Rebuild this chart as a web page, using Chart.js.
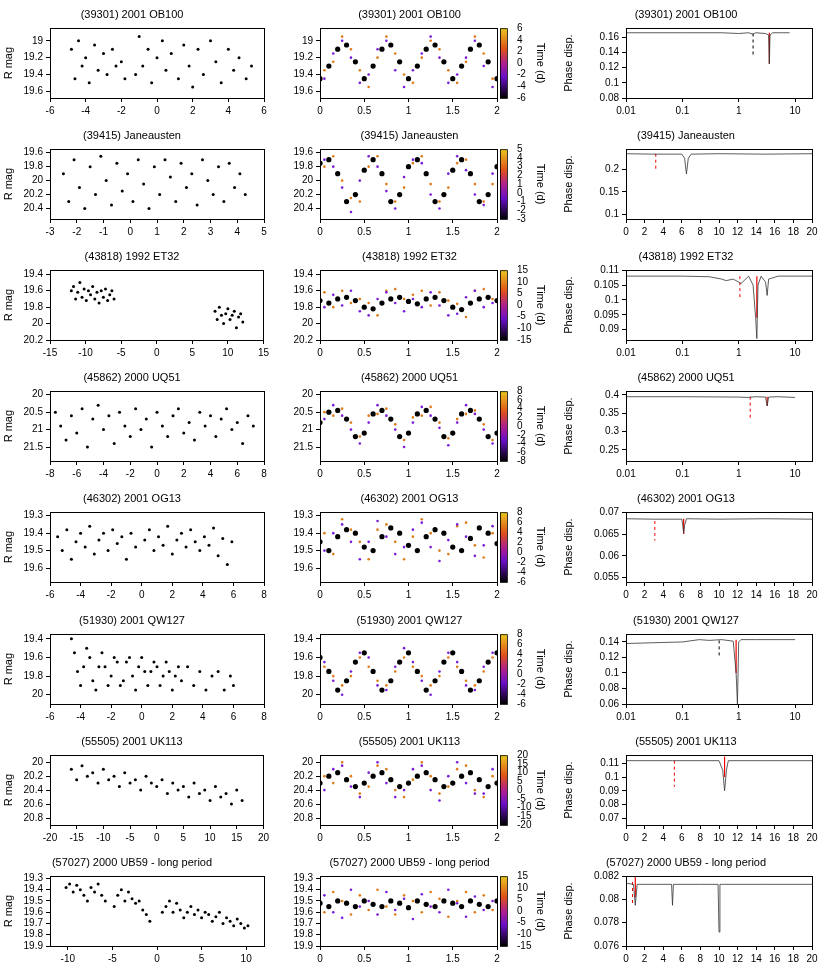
<!DOCTYPE html>
<html>
<head>
<meta charset="utf-8">
<script src="https://cdn.jsdelivr.net/npm/chart.js@4"></script>
<style>
  body { margin: 0; background: #fff; }
  .cell { position: absolute; }
</style>
</head>
<body>
<div id="wrap"></div>
<script>
// ---------- titres ----------
const TITLES = ['(39301) 2001 OB100', '(39415) Janeausten', '(43818) 1992 ET32', '(45862) 2000 UQ51',
  '(46302) 2001 OG13', '(51930) 2001 QW127', '(55505) 2001 UK113', '(57027) 2000 UB59 - long period'];

// ---------- colonne gauche : courbe de lumière brute ----------
const LEFT_X = [
  [-4.8,-4.6,-4.4,-4.2,-4,-3.8,-3.5,-3.3,-3,-2.8,-2.5,-2.3,-2,-1.8,-1.2,-1,-0.8,-0.5,-0.3,0,0.3,0.5,0.8,1.2,1.5,1.8,2,2.3,2.6,3,3.3,3.6,4,4.3,4.6,5,5.3],
  [-2.5,-2.3,-2.1,-1.9,-1.7,-1.5,-1.3,-1.1,-0.9,-0.7,-0.5,-0.3,-0.1,0.1,0.3,0.5,0.7,0.9,1.1,1.3,1.5,1.7,1.9,2.1,2.3,2.5,2.7,2.9,3.1,3.3,3.5,3.7,3.9,4.1,4.3],
  [-12,-11.7,-11.4,-11.1,-10.8,-10.5,-10.2,-9.9,-9.6,-9.3,-9,-8.7,-8.4,-8.1,-7.8,-7.5,-7.2,-6.9,-6.6,-6.3,-6,8.2,8.5,8.8,9.1,9.4,9.7,10,10.3,10.6,10.9,11.2,11.5,11.8,12.1],
  [-7.6,-7.2,-6.8,-6.4,-6,-5.6,-5.2,-4.8,-4.4,-4,-3.6,-3.2,-2.8,-2.4,-2,-1.6,-1.2,-0.8,-0.4,0,0.4,0.8,1.2,1.6,2,2.4,2.8,3.2,3.6,4,4.4,4.8,5.2,5.6,6,6.4,6.8,7.2],
  [-5.5,-5.2,-4.9,-4.6,-4.3,-4,-3.7,-3.4,-3.1,-2.8,-2.5,-2.2,-1.9,-1.6,-1.3,-1,-0.7,-0.4,0.2,0.5,0.8,1.1,1.4,1.7,2,2.3,2.6,2.9,3.2,3.5,3.8,4.1,4.4,4.7,5,5.3,5.6,5.9],
  [-4.6,-4.4,-4.2,-4,-3.8,-3.6,-3.4,-3.2,-3,-2.8,-2.6,-2.4,-2.2,-2,-1.8,-1.6,-1.4,-1.2,-1,-0.8,-0.6,-0.4,-0.2,0,0.2,0.4,0.6,0.8,1,1.2,1.4,1.6,1.8,2,2.2,2.4,2.6,3,3.4,3.8,4.2,4.6,5,5.4,5.8,6],
  [-16,-15,-14,-13,-12,-11,-10,-9,-8,-7,-6,-5,-4,-3,-2,-1,0,1,2,3,4,5,6,7,8,9,10,11,12,13,14,15,16],
  [-10.2,-9.8,-9.4,-9,-8.6,-8.2,-7.8,-7.4,-7,-6.6,-6.2,-5.8,-4.8,-4.4,-4,-3.6,-3.2,-2.8,-2.4,-2,-1.6,-1.2,-0.8,0.6,1,1.4,1.8,2.2,2.6,3,3.4,3.8,4.2,4.6,5,5.4,5.8,6.2,6.6,7,7.4,7.8,8.2,8.6,9,9.4,9.8,10.2]
];
const LEFT_Y = [
  [19.1,19.45,19.0,19.3,19.2,19.5,19.05,19.35,19.15,19.4,19.1,19.3,19.25,19.45,19.4,18.95,19.3,19.1,19.5,19.2,19.0,19.35,19.15,19.45,19.05,19.3,19.55,19.1,19.4,19.0,19.25,19.5,19.1,19.35,19.2,19.45,19.3],
  [19.9,20.3,19.7,20.1,20.4,19.8,20.2,19.65,20.0,20.35,19.75,20.15,19.9,20.3,19.7,20.05,20.4,19.8,20.2,19.7,19.95,20.3,19.75,20.1,19.9,20.35,19.7,20.0,20.2,19.8,20.3,19.75,20.1,19.9,20.2],
  [19.6,19.55,19.7,19.62,19.5,19.68,19.58,19.72,19.6,19.65,19.55,19.7,19.62,19.75,19.6,19.68,19.58,19.72,19.65,19.6,19.7,19.85,19.95,19.8,19.9,20.0,19.88,19.82,19.95,19.9,19.85,20.05,19.92,19.88,19.98],
  [20.5,20.9,21.3,20.6,21.1,20.4,21.5,20.7,20.3,21.0,20.6,21.4,20.5,20.9,21.2,20.4,21.0,20.7,21.5,20.5,20.9,21.2,20.6,20.4,21.1,20.8,21.3,20.5,20.9,20.6,21.2,20.7,20.4,21.0,20.8,21.4,20.6,20.9],
  [19.42,19.5,19.38,19.55,19.45,19.4,19.48,19.36,19.52,19.44,19.4,19.5,19.38,19.46,19.42,19.55,19.4,19.48,19.44,19.38,19.5,19.42,19.47,19.36,19.52,19.44,19.4,19.48,19.38,19.45,19.5,19.42,19.47,19.37,19.53,19.43,19.58,19.45],
  [19.4,19.55,19.75,19.9,19.7,19.5,19.6,19.85,19.95,19.7,19.55,19.7,19.9,19.8,19.6,19.65,19.9,19.85,19.65,19.6,19.8,19.95,19.7,19.6,19.75,19.9,19.75,19.65,19.7,19.9,19.8,19.65,19.75,19.95,19.8,19.7,19.85,19.7,19.9,19.75,19.95,19.8,19.75,19.95,19.8,19.9],
  [20.1,20.25,20.05,20.2,20.15,20.3,20.1,20.25,20.2,20.35,20.15,20.3,20.25,20.4,20.2,20.3,20.35,20.25,20.45,20.3,20.4,20.35,20.5,20.3,20.45,20.4,20.55,20.35,20.5,20.45,20.6,20.4,20.55],
  [19.38,19.35,19.42,19.36,19.4,19.45,19.5,19.38,19.42,19.35,19.45,19.5,19.55,19.45,19.4,19.5,19.42,19.48,19.52,19.5,19.58,19.62,19.68,19.6,19.55,19.5,19.6,19.52,19.58,19.65,19.6,19.55,19.62,19.58,19.65,19.6,19.62,19.68,19.64,19.6,19.7,19.65,19.68,19.72,19.66,19.7,19.74,19.72]
];
const LEFT_XR = [[-6,6],[-3,5],[-15,15],[-8,8],[-6,8],[-6,8],[-20,20],[-12,12]];
const LEFT_XT = [[-6,-4,-2,0,2,4,6],[-3,-2,-1,0,1,2,3,4,5],[-15,-10,-5,0,5,10,15],[-8,-6,-4,-2,0,2,4,6,8],
  [-6,-4,-2,0,2,4,6,8],[-6,-4,-2,0,2,4,6,8],[-20,-15,-10,-5,0,5,10,15,20],[-10,-5,0,5,10]];
const MAG_R = [[18.85,19.68],[19.55,20.55],[19.35,20.2],[19.9,21.9],[19.28,19.68],[19.35,20.1],[19.9,20.9],[19.28,19.9]];
const MAG_T = [[19,19.2,19.4,19.6],[19.6,19.8,20,20.2,20.4],[19.4,19.6,19.8,20,20.2],[20,20.5,21,21.5],
  [19.3,19.4,19.5,19.6],[19.4,19.6,19.8,20],[20,20.2,20.4,20.6,20.8],[19.3,19.4,19.5,19.6,19.7,19.8,19.9]];

// ---------- colonne centrale : courbe repliée ----------
const PH = [0,0.1,0.2,0.3,0.4,0.5,0.6,0.7,0.8,0.9,1,1.1,1.2,1.3,1.4,1.5,1.6,1.7,1.8,1.9,2];
const PX = [0.05,0.15,0.25,0.35,0.45,0.55,0.65,0.75,0.85,0.95,1.05,1.15,1.25,1.35,1.45,1.55,1.65,1.75,1.85,1.95];
const MID_BIN = [
  [19.45,19.3,19.1,19.05,19.25,19.45,19.3,19.1,19.05,19.25,19.45,19.3,19.1,19.05,19.25,19.45,19.3,19.1,19.05,19.25,19.45],
  [19.75,19.7,19.9,20.3,20.2,19.85,19.7,19.9,20.3,20.2,19.8,19.7,19.9,20.3,20.2,19.85,19.7,19.9,20.3,20.2,19.8],
  [19.72,19.75,19.7,19.68,19.72,19.8,19.82,19.75,19.7,19.68,19.73,19.76,19.7,19.68,19.72,19.8,19.83,19.75,19.7,19.68,19.72],
  [20.8,20.5,20.45,20.7,21.2,21.1,20.55,20.45,20.7,21.2,21.1,20.55,20.45,20.7,21.2,21.1,20.55,20.45,20.7,21.2,21.1],
  [19.45,19.5,19.42,19.38,19.4,19.48,19.5,19.42,19.37,19.4,19.47,19.5,19.42,19.38,19.4,19.48,19.5,19.43,19.37,19.4,19.46],
  [19.6,19.75,19.95,19.85,19.65,19.55,19.75,19.95,19.85,19.65,19.55,19.75,19.95,19.85,19.65,19.55,19.75,19.95,19.85,19.65,19.55],
  [20.3,20.2,20.15,20.25,20.35,20.3,20.2,20.15,20.25,20.35,20.3,20.2,20.15,20.25,20.35,20.3,20.2,20.15,20.25,20.35,20.3],
  [19.52,19.55,19.5,19.52,19.55,19.5,19.53,19.55,19.5,19.52,19.56,19.5,19.53,19.55,19.5,19.52,19.55,19.5,19.53,19.55,19.5]
];
const MID_EARLY = [
  [19.45,19.15,19.0,19.2,19.5,19.4,19.1,19.0,19.35,19.55,19.35,19.15,18.95,19.2,19.5,19.4,19.2,19.0,19.3,19.55],
  [19.7,19.8,20.1,20.45,20.0,19.65,19.8,20.15,20.4,19.95,19.7,19.75,20.2,20.4,19.9,19.65,19.85,20.2,20.35,19.9],
  [19.8,19.65,19.78,19.6,19.85,19.9,19.7,19.62,19.75,19.85,19.7,19.8,19.62,19.78,19.9,19.88,19.68,19.6,19.8,19.75],
  [20.7,20.3,20.6,21.0,21.4,20.8,20.3,20.6,21.0,21.5,20.8,20.35,20.6,20.95,21.45,20.8,20.3,20.55,21.0,21.4],
  [19.5,19.4,19.35,19.45,19.55,19.45,19.33,19.42,19.52,19.48,19.38,19.34,19.48,19.56,19.44,19.35,19.42,19.53,19.47,19.36],
  [19.65,19.85,20.0,19.75,19.55,19.6,19.9,19.95,19.7,19.5,19.65,19.85,20.0,19.75,19.55,19.65,19.9,19.95,19.7,19.55],
  [20.4,20.1,20.05,20.35,20.5,20.15,20.0,20.3,20.5,20.4,20.1,20.05,20.4,20.55,20.2,20.0,20.3,20.45,20.45,20.1],
  [19.45,19.6,19.65,19.4,19.55,19.5,19.62,19.42,19.58,19.48,19.66,19.44,19.55,19.6,19.4,19.52,19.64,19.46,19.58,19.5]
];
const MID_LATE = [
  [19.35,19.25,18.95,19.1,19.35,19.55,19.2,18.95,19.15,19.4,19.5,19.2,19.0,19.1,19.35,19.5,19.25,18.95,19.15,19.45],
  [19.8,19.65,20.0,20.25,20.3,19.8,19.65,20.05,20.3,20.1,19.75,19.65,20.05,20.3,20.1,19.75,19.7,20.05,20.3,20.05],
  [19.62,19.8,19.6,19.75,19.7,19.75,19.9,19.6,19.58,19.7,19.65,19.6,19.78,19.62,19.72,19.76,19.92,19.6,19.58,19.7],
  [20.5,20.6,20.4,20.8,21.2,20.6,20.55,20.4,20.85,21.3,20.65,20.6,20.35,20.8,21.25,20.7,20.55,20.45,20.85,21.3],
  [19.4,19.52,19.32,19.38,19.45,19.55,19.38,19.35,19.45,19.55,19.42,19.32,19.4,19.5,19.52,19.36,19.34,19.47,19.54,19.4],
  [19.7,19.8,19.9,19.8,19.6,19.7,19.85,19.9,19.75,19.6,19.7,19.8,19.9,19.8,19.6,19.7,19.85,19.9,19.75,19.6],
  [20.2,20.3,20.0,20.2,20.45,20.35,20.05,20.1,20.4,20.5,20.25,20.0,20.2,20.45,20.35,20.1,20.05,20.4,20.5,20.2],
  [19.6,19.42,19.5,19.62,19.45,19.58,19.4,19.55,19.62,19.45,19.5,19.6,19.42,19.48,19.64,19.5,19.42,19.6,19.45,19.58]
];
const MID_XT = [0,0.5,1,1.5,2];
const CB_R = [[-6,6],[-3,5],[-15,15],[-8,8],[-6,8],[-6,8],[-20,20],[-15,15]];
const CB_T = [[-6,-4,-2,0,2,4,6],[-3,-2,-1,0,1,2,3,4,5],[-15,-10,-5,0,5,10,15],[-8,-6,-4,-2,0,2,4,6,8],
  [-6,-4,-2,0,2,4,6,8],[-6,-4,-2,0,2,4,6,8],[-20,-15,-10,-5,0,5,10,15,20],[-15,-10,-5,0,5,10,15]];

// ---------- colonne droite : dispersion de phase ----------
const PD_LOG = [true,false,true,true,false,true,false,false];
const PD_X = [
  [0.01,0.1,0.5,1,1.5,1.8,2,3,3.4,3.5,3.6,4,6,8],
  [0,3,6,6.3,6.5,6.7,7,10,15,20],
  [0.01,0.1,0.3,0.5,0.6,0.8,1,1.1,1.5,1.8,2,2.1,2.2,2.5,3,3.2,3.4,5,10,20],
  [0.01,0.1,1,1.5,2,3,3.2,3.4,5,10],
  [0,3,6,6.1,6.2,6.3,6.5,10,15,20],
  [0.01,0.1,0.2,0.3,0.5,0.8,0.9,0.95,1,1.1,2,5,10],
  [0,5,10,10.4,10.6,10.8,11,15,20],
  [0,0.8,1,1.2,3,4.9,5,5.1,8,9.9,10,10.1,15,20]
];
const PD_Y = [
  [0.166,0.166,0.166,0.165,0.166,0.164,0.166,0.165,0.163,0.125,0.163,0.166,0.166,0.166],
  [0.235,0.234,0.234,0.225,0.19,0.225,0.234,0.235,0.234,0.235],
  [0.108,0.108,0.1078,0.107,0.1065,0.107,0.106,0.1055,0.108,0.105,0.094,0.087,0.105,0.108,0.106,0.1015,0.107,0.108,0.108,0.108],
  [0.395,0.395,0.394,0.393,0.395,0.394,0.37,0.394,0.395,0.393],
  [0.0685,0.0684,0.0684,0.067,0.0652,0.067,0.0685,0.0684,0.0685,0.0684],
  [0.138,0.14,0.143,0.142,0.143,0.141,0.1,0.06,0.14,0.143,0.143,0.143,0.143],
  [0.112,0.112,0.112,0.105,0.09,0.105,0.112,0.112,0.112],
  [0.0814,0.0813,0.0795,0.0813,0.0813,0.0813,0.0795,0.0813,0.0813,0.0813,0.0772,0.0813,0.0813,0.0813]
];
// meilleure période (rouge plein) : [x, y haut, y bas]
const BEST = [[3.5,0.166,0.125],null,[2.1,0.108,0.094],[3.2,0.395,0.37],[6.2,0.0685,0.065],[0.9,0.143,0.1],[10.6,0.115,0.1],[1.0,0.0822,0.0802]];
// demi-période (tirets) : [x, y haut, y bas, couleur]
const HALF = [[1.8,0.165,0.135,'#000'],[3.2,0.235,0.2,'#e00'],[1.05,0.108,0.1,'#e00'],[1.6,0.395,0.33,'#e00'],
  [3.1,0.068,0.0635,'#e00'],[0.45,0.142,0.12,'#000'],[5.2,0.112,0.093,'#e00'],[0.7,0.0815,0.0797,'#e00']];
const PD_XT_LIN = [0,2,4,6,8,10,12,14,16,18,20];
const PD_XT_LOG = [0.01,0.1,1,10];
const PD_R = [[0.08,0.172],[0.09,0.245],[0.0865,0.11],[0.22,0.41],[0.054,0.07],[0.06,0.15],[0.065,0.116],[0.076,0.082]];
const PD_T = [[0.08,0.1,0.12,0.14,0.16],[0.1,0.15,0.2],[0.09,0.095,0.1,0.105,0.11],[0.25,0.3,0.35,0.4],
  [0.055,0.06,0.065,0.07],[0.06,0.08,0.1,0.12,0.14],[0.07,0.08,0.09,0.1,0.11],[0.076,0.078,0.08,0.082]];

// ---------- style commun ----------
Chart.defaults.font.family = '"Liberation Sans", Arial, sans-serif';
Chart.defaults.font.size = 10;
Chart.defaults.color = '#000';
Chart.defaults.animation = false;

const ROW_H = 121.1;

// cadre noir autour de la zone de tracé
const boxPlugin = {
  id: 'box',
  afterDraw(chart) {
    const a = chart.chartArea, c = chart.ctx;
    c.save();
    c.strokeStyle = '#000';
    c.lineWidth = 1;
    c.strokeRect(Math.round(a.left) + 0.5, Math.round(a.top) + 0.5, Math.round(a.right - a.left), Math.round(a.bottom - a.top));
    c.restore();
  }
};

// barre de couleur (temps)
const cbarPlugin = {
  id: 'cbar',
  afterDraw(chart, args, opts) {
    if (!opts.on) return;
    const a = chart.chartArea, c = chart.ctx;
    const x = a.right + 3, w = 7;
    const g = c.createLinearGradient(0, a.bottom, 0, a.top);
    g.addColorStop(0, '#000000');
    g.addColorStop(0.3, '#6a0fc8');
    g.addColorStop(0.5, '#b0208a');
    g.addColorStop(0.7, '#e0501a');
    g.addColorStop(1, '#e8c81c');
    c.save();
    c.fillStyle = g;
    c.fillRect(x, a.top, w, a.bottom - a.top);
    c.strokeStyle = '#000';
    c.lineWidth = 0.8;
    c.strokeRect(x + 0.5, a.top + 0.5, w, a.bottom - a.top);
    c.restore();
  }
};

function fixedTicks(list) {
  return function (scale) { scale.ticks = list.map(v => ({ value: v })); };
}
function axis(min, max, ticks, extra) {
  return Object.assign({
    min: min, max: max,
    afterBuildTicks: fixedTicks(ticks),
    ticks: { autoSkip: false, maxRotation: 0, padding: 3, callback: v => String(v) },
    grid: { drawOnChartArea: false, tickLength: 4, color: '#000' },
    border: { color: '#000' }
  }, extra || {});
}
function makeCanvas(left, top, w, h) {
  const d = document.createElement('div');
  d.className = 'cell';
  d.style.left = left + 'px'; d.style.top = top + 'px';
  const cv = document.createElement('canvas');
  cv.width = w; cv.height = h;
  cv.style.width = w + 'px'; cv.style.height = h + 'px';
  d.appendChild(cv);
  document.getElementById('wrap').appendChild(d);
  return cv.getContext('2d');
}
function pts(xs, ys) { return xs.map((x, i) => ({ x: x, y: ys[i] })); }
function titleOpt(t) {
  return { display: true, text: t, font: { size: 11, weight: 'normal' }, padding: { top: 8, bottom: 7 }, color: '#000' };
}
function fitW(w) { return s => { s.width = w; }; }
function fitH(h) { return s => { s.height = h; }; }

for (let i = 0; i < TITLES.length; i++) {
  const top = Math.round(i * ROW_H);

  // --- gauche ---
  new Chart(makeCanvas(0, top, 272, 121), {
    type: 'scatter',
    data: { datasets: [{ data: pts(LEFT_X[i], LEFT_Y[i]), pointRadius: 1.5, pointBackgroundColor: '#000', borderWidth: 0 }] },
    options: {
      responsive: false,
      layout: { padding: { right: 8, bottom: 3 } },
      plugins: { legend: { display: false }, tooltip: { enabled: false }, title: titleOpt(TITLES[i]), cbar: { on: false } },
      scales: {
        x: axis(LEFT_XR[i][0], LEFT_XR[i][1], LEFT_XT[i], { afterFit: fitH(20) }),
        y: axis(MAG_R[i][0], MAG_R[i][1], MAG_T[i], { reverse: true, afterFit: fitW(50),
          title: { display: true, text: 'R mag', font: { size: 11 }, padding: 2 } })
      }
    },
    plugins: [boxPlugin]
  });

  // --- centre ---
  new Chart(makeCanvas(272, top, 275, 121), {
    type: 'scatter',
    data: { datasets: [
      { data: pts(PX, MID_EARLY[i]), pointRadius: 1.3, pointBackgroundColor: '#7a1cd8', borderWidth: 0 },
      { data: pts(PX, MID_LATE[i]), pointRadius: 1.3, pointBackgroundColor: '#e07a18', borderWidth: 0 },
      { data: pts(PH, MID_BIN[i]), pointRadius: 2.6, pointBackgroundColor: '#000', borderWidth: 0 }
    ] },
    options: {
      responsive: false,
      layout: { padding: { bottom: 3 } },
      plugins: { legend: { display: false }, tooltip: { enabled: false }, title: titleOpt(TITLES[i]), cbar: { on: true } },
      scales: {
        x: axis(0, 2, MID_XT, { afterFit: fitH(20) }),
        y: axis(MAG_R[i][0], MAG_R[i][1], MAG_T[i], { reverse: true, afterFit: fitW(48) }),
        y2: {
          position: 'right', min: CB_R[i][0], max: CB_R[i][1],
          afterBuildTicks: fixedTicks(CB_T[i]),
          afterFit: fitW(50),
          ticks: { autoSkip: false, padding: 12, callback: v => String(v) },
          grid: { display: false },
          border: { display: false },
          title: { display: true, text: 'Time (d)', font: { size: 11 }, padding: 0 }
        }
      }
    },
    plugins: [boxPlugin, cbarPlugin]
  });

  // --- droite ---
  const ds = [{ data: pts(PD_X[i], PD_Y[i]), showLine: true, borderColor: '#333', borderWidth: 0.8, pointRadius: 0 }];
  if (BEST[i]) {
    ds.push({ data: [{ x: BEST[i][0], y: BEST[i][1] }, { x: BEST[i][0], y: BEST[i][2] }],
      showLine: true, borderColor: '#e00', borderWidth: 1.2, pointRadius: 0 });
  }
  ds.push({ data: [{ x: HALF[i][0], y: HALF[i][1] }, { x: HALF[i][0], y: HALF[i][2] }],
    showLine: true, borderColor: HALF[i][3], borderWidth: 1, borderDash: [3, 3], pointRadius: 0 });
  const xr = PD_LOG[i]
    ? axis(0.01, 20, PD_XT_LOG, { type: 'logarithmic', afterFit: fitH(20) })
    : axis(0, 20, PD_XT_LIN, { afterFit: fitH(20) });
  new Chart(makeCanvas(560, top, 270, 121), {
    type: 'scatter',
    data: { datasets: ds },
    options: {
      responsive: false,
      layout: { padding: { right: 18, bottom: 3 } },
      plugins: { legend: { display: false }, tooltip: { enabled: false }, title: titleOpt(TITLES[i]), cbar: { on: false } },
      scales: {
        x: xr,
        y: axis(PD_R[i][0], PD_R[i][1], PD_T[i], { afterFit: fitW(66),
          title: { display: true, text: 'Phase disp.', font: { size: 11 }, padding: 2 } })
      }
    },
    plugins: [boxPlugin]
  });
}
</script>
</body>
</html>
